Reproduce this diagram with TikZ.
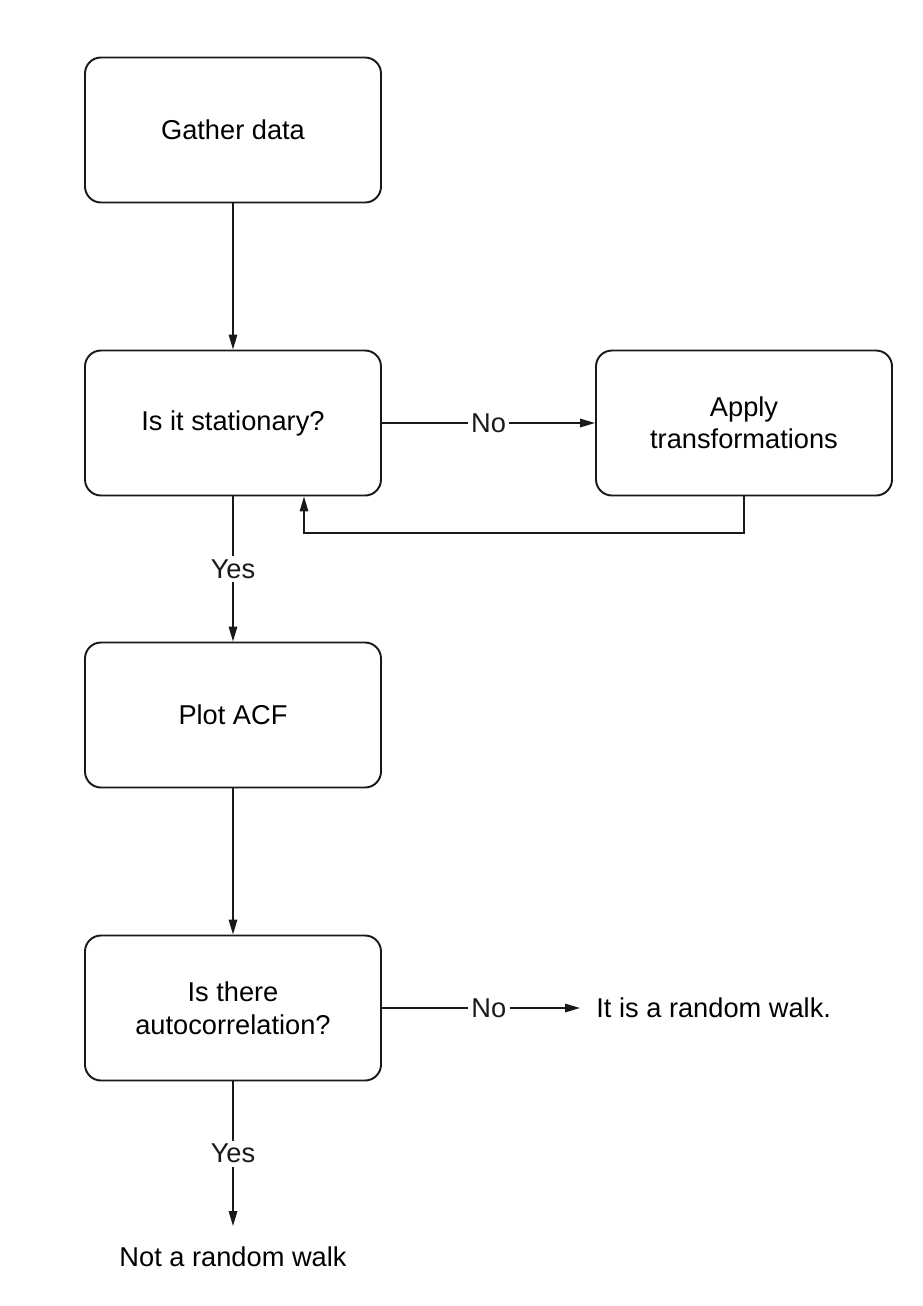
\documentclass[tikz,border=0pt]{standalone}
\usepackage{fontspec}
\setmainfont{Liberation Sans}
\usepackage{xcolor}
\usetikzlibrary{positioning,calc,arrows.meta,shapes.geometric}
\definecolor{InkBlack}{RGB}{25,25,25}
\tikzset{
  fbox/.style={draw=InkBlack,fill=white,rounded corners=0.32cm,
               minimum width=5.92cm,minimum height=2.9cm,
               font=\fontsize{15.5}{18.5}\selectfont,align=center,line width=1.1pt},
  plain/.style={font=\fontsize{15.5}{18.5}\selectfont,inner sep=0pt},
  lbl/.style={fill=white,font=\fontsize{15.5}{18.5}\selectfont,inner sep=2pt},
  arr/.style={-{Triangle[length=0.3cm,width=0.17cm]},InkBlack,line width=0.9pt},
}
\begin{document}
\begin{tikzpicture}
            \useasboundingbox (0,0) rectangle (18.44,-26.12);
            % main column of boxes
            \node[fbox] (gather) at (4.66, -2.6) {Gather data};
            \node[fbox] (stat) at (4.66, -8.46) {Is it stationary?};
            \node[fbox] (trans) at (14.88, -8.46) {Apply\\transformations};
            \node[fbox] (acf) at (4.66, -14.3) {Plot ACF};
            \node[fbox] (autoc) at (4.66, -20.16) {Is there\\autocorrelation?};
            
            % end results
            \node[plain, anchor=west] (walk) at (11.92, -20.16) {It is a random walk.};
            \node[plain] (notwalk) at (4.66, -25.14) {Not a random walk};
            \coordinate (walkin) at (11.6, -20.16);
            \coordinate (notin) at (4.66, -24.52);
            \coordinate (back) at (6.08, -10.66);
            
            \draw[arr] (gather) -- (stat);
            \draw[arr] (stat) -- node[lbl] {No} (trans);
            \draw[arr] (trans.south) |- (back) -- (back |- stat.south);
            \draw[arr] (stat) -- node[lbl] {Yes} (acf);
            \draw[arr] (acf) -- (autoc);
            \draw[arr] (autoc) -- node[lbl, pos=0.54] {No} (walkin);
            \draw[arr] (autoc) -- node[lbl] {Yes} (notin);
          \end{tikzpicture}
\end{document}
